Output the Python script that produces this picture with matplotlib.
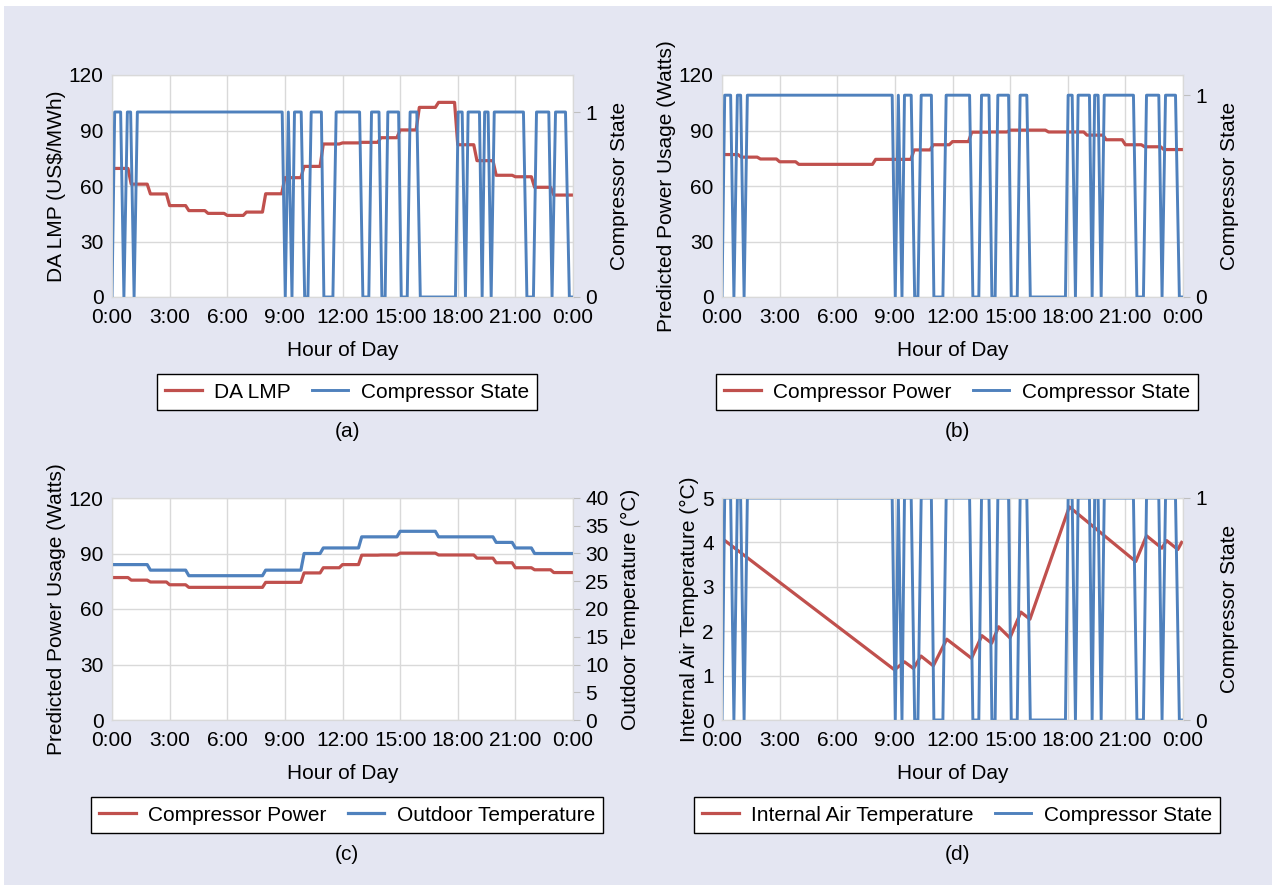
import matplotlib.pyplot as plt
import numpy as np
from matplotlib.patches import Rectangle

plt.rcParams['font.family'] = ['Liberation Sans', 'DejaVu Sans']
plt.rcParams['font.size'] = 15

# hourly values, sampled every 10 minutes in the source
da_lmp = [69.5, 61.0, 55.7, 49.4, 46.7, 45.2, 44.1, 45.9, 55.8, 64.5, 70.6, 82.7,
          83.3, 83.6, 86.1, 90.3, 102.5, 105.2, 82.3, 73.7, 65.8, 65.0, 59.3, 55.1]
comp_power = [77.0, 75.6, 74.6, 73.1, 71.7, 71.7, 71.7, 71.7, 74.4, 74.4, 79.5, 82.3,
              84.0, 89.1, 89.2, 90.2, 90.2, 89.2, 89.2, 87.5, 85.0, 82.3, 81.2, 79.7]
outdoor_temp = [28, 28, 27, 27, 26, 26, 26, 26, 27, 27, 30, 31,
                31, 33, 33, 34, 34, 33, 33, 33, 32, 31, 30, 30]

# compressor on/off switching points (hour, state)
state_t = [0, 0.14, 0.45, 0.62, 0.8, 0.97, 1.15, 1.32, 8.86, 9.02, 9.18, 9.37,
           9.5, 9.85, 10.03, 10.2, 10.37, 10.9, 11.03, 11.5, 11.67, 12.89, 13.06,
           13.37, 13.51, 13.9, 14.05, 14.22, 14.36, 14.92, 15.06, 15.37, 15.52,
           15.87, 16.05, 17.88, 18.02, 18.23, 18.4, 18.54, 19.13, 19.27, 19.4,
           19.58, 19.74, 19.9, 21.42, 21.6, 21.94, 22.1, 22.74, 22.91, 23.09,
           23.61, 23.81, 23.95]
state = [0, 1, 1, 0, 1, 1, 0, 1, 1, 0, 1, 0,
         1, 1, 0, 0, 1, 1, 0, 0, 1, 1, 0,
         0, 1, 1, 0, 0, 1, 1, 0, 0, 1,
         1, 0, 0, 1, 1, 0, 1, 1, 0, 1,
         1, 0, 1, 1, 0, 0, 1, 1, 0, 1,
         1, 0, 0]

# internal air temperature turning points
air_t = [0, 8.98, 9.5, 9.97, 10.36, 11.0, 11.7, 12.99, 13.53, 14.04, 14.4, 14.99,
         15.56, 16.03, 18.08, 21.54, 22.1, 22.9, 23.15, 23.73, 23.93]
air_temp = [4.09, 1.13, 1.31, 1.16, 1.44, 1.22, 1.82, 1.39, 1.9, 1.73, 2.1, 1.85,
            2.43, 2.27, 4.8, 3.57, 4.15, 3.87, 4.04, 3.84, 4.0]

RED = '#c0504d'
BLUE = '#4f81bd'
GRID = '#d9d9d9'

step_t = np.append(np.arange(144) / 6, 24)


def steps(v):
    return np.append(np.repeat(v, 6), v[-1])


fig = plt.figure(figsize=(12.76, 8.91), dpi=100, facecolor='white')
fig.patches.append(Rectangle((4 / 1276, 6 / 891), 1268 / 1276, 879 / 891,
                             transform=fig.transFigure, facecolor='#e4e6f2',
                             edgecolor='none', zorder=-10))

W = 461 / 1276
H = 222 / 891


def panel(left, bottom, ylabel, ylim, rlabel, rlim, rticks, tag):
    ax = fig.add_axes([left / 1276, bottom / 891, W, H])
    ax.set_facecolor('white')
    ax.set_xlim(0, 24)
    ax.set_xticks(range(0, 25, 3))
    ax.set_xticklabels([f'{h % 24}:00' for h in range(0, 25, 3)])
    ax.set_ylim(*ylim)
    ax.grid(True, color=GRID, lw=1)
    ax.set_axisbelow(True)
    ax.tick_params(axis='y', length=0, pad=6)
    ax.tick_params(axis='x', length=0, pad=8)
    ax.set_xlabel('Hour of Day', labelpad=10)
    ax.set_ylabel(ylabel, labelpad=2)
    ax2 = ax.twinx()
    ax2.set_ylim(*rlim)
    ax2.set_yticks(rticks)
    ax2.tick_params(length=5, color='#bfbfbf', pad=4)
    ax2.set_ylabel(rlabel, labelpad=9)
    for a in (ax, ax2):
        for s in a.spines.values():
            s.set_color(GRID)
    ax.text(0.51, -0.608, tag, transform=ax.transAxes, ha='center', va='center')
    return ax, ax2


def legend(ax, lines):
    ax.legend(handles=lines, loc='center', bbox_to_anchor=(0.51, -0.428), ncol=2,
              fancybox=False, edgecolor='black', framealpha=1, handlelength=1.75,
              handletextpad=0.6, columnspacing=1.0, borderpad=0.4)


# (a)
ax, ax2 = panel(112, 594, 'DA LMP (US$/MWh)', (0, 120), 'Compressor State',
                (0, 1.2), [0, 1], '(a)')
ax.set_yticks(range(0, 121, 30))
l1, = ax.plot(step_t, steps(da_lmp), color=RED, lw=2.3, label='DA LMP')
l2, = ax2.plot(state_t, state, color=BLUE, lw=2.1, label='Compressor State')
legend(ax, [l1, l2])

# (b)
ax, ax2 = panel(722, 594, 'Predicted Power Usage (Watts)', (0, 120), 'Compressor State',
                (0, 1.1), [0, 1], '(b)')
ax.set_yticks(range(0, 121, 30))
l1, = ax.plot(step_t, steps(comp_power), color=RED, lw=2.3, label='Compressor Power')
l2, = ax2.plot(state_t, state, color=BLUE, lw=2.1, label='Compressor State')
legend(ax, [l1, l2])

# (c)
ax, ax2 = panel(112, 171, 'Predicted Power Usage (Watts)', (0, 120),
                'Outdoor Temperature (°C)', (0, 40), range(0, 41, 5), '(c)')
ax.set_yticks(range(0, 121, 30))
l1, = ax.plot(step_t, steps(comp_power), color=RED, lw=2.3, label='Compressor Power')
l2, = ax2.plot(step_t, steps(outdoor_temp), color=BLUE, lw=2.3,
               label='Outdoor Temperature')
legend(ax, [l1, l2])

# (d)
ax, ax2 = panel(722, 171, 'Internal Air Temperature (°C)', (0, 5), 'Compressor State',
                (0, 1), [0, 1], '(d)')
ax.set_yticks(range(0, 6))
l1, = ax.plot(air_t, air_temp, color=RED, lw=2.3, label='Internal Air Temperature')
l2, = ax2.plot(state_t, state, color=BLUE, lw=2.1, label='Compressor State')
legend(ax, [l1, l2])

fig.savefig('out.png', dpi=100, facecolor=fig.get_facecolor())
